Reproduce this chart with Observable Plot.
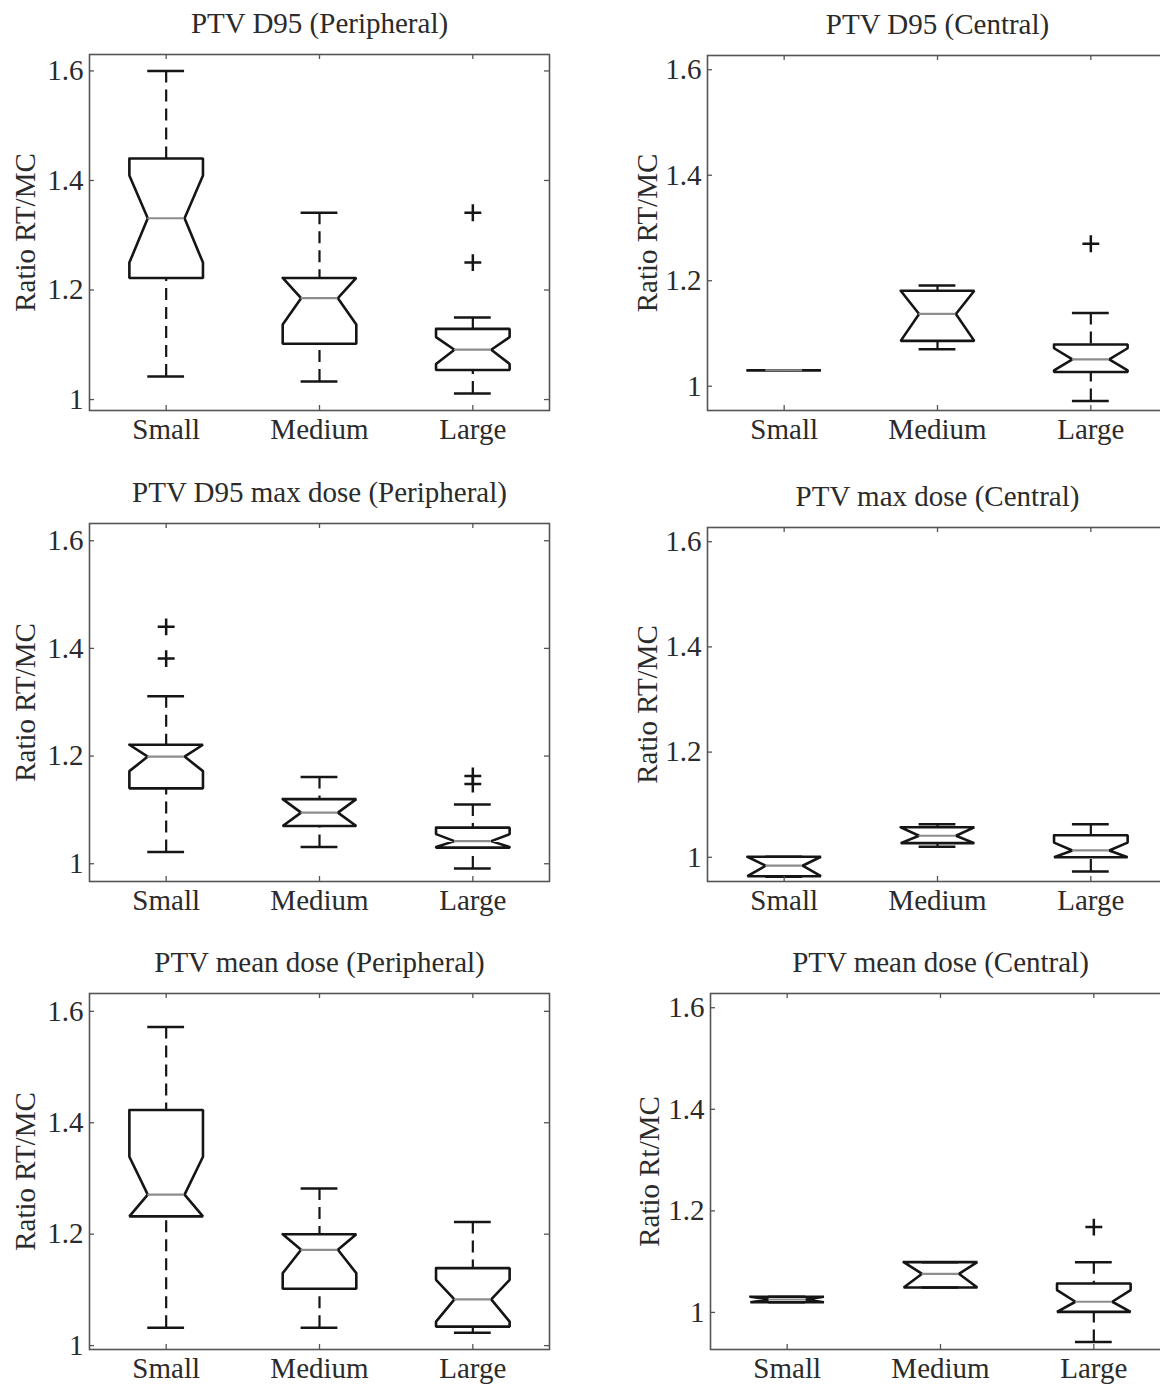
<!DOCTYPE html>
<html>
<head>
<meta charset="utf-8">
<script src="https://cdn.jsdelivr.net/npm/d3@7"></script>
<script src="https://cdn.jsdelivr.net/npm/@observablehq/plot@0.6"></script>
<style>
html, body { margin: 0; padding: 0; background: #fff; }
#root { position: relative; width: 1160px; height: 1384px; overflow: hidden; background: #fff; }
.panel { position: absolute; overflow: visible; }
.panel svg { max-width: none !important; display: block; }
</style>
</head>
<body>
<div id="root"></div>
<script>
// ---------------- data ----------------
const categories = ["Small", "Medium", "Large"];
const titles = [
  "PTV D95 (Peripheral)",
  "PTV D95 (Central)",
  "PTV D95 max dose (Peripheral)",
  "PTV max dose (Central)",
  "PTV mean dose (Peripheral)",
  "PTV mean dose (Central)"
];
const yLabels = ["Ratio RT/MC", "Ratio RT/MC", "Ratio RT/MC", "Ratio RT/MC", "Ratio RT/MC", "Ratio Rt/MC"];
const yTicks = [1, 1.2, 1.4, 1.6];

// one row per panel, one value per category (Small, Medium, Large)
const whiskerHigh = [
  [1.600, 1.341, 1.150],
  [1.030, 1.191, 1.139],
  [1.311, 1.161, 1.110],
  [1.001, 1.063, 1.063],
  [1.572, 1.282, 1.222],
  [1.031, 1.099, 1.099]
];
const q3 = [
  [1.440, 1.222, 1.129],
  [1.030, 1.181, 1.079],
  [1.221, 1.120, 1.067],
  [1.001, 1.057, 1.042],
  [1.423, 1.200, 1.139],
  [1.031, 1.099, 1.057]
];
const notchHigh = [
  [1.409, 1.222, 1.114],
  [1.030, 1.181, 1.072],
  [1.221, 1.120, 1.055],
  [1.001, 1.057, 1.028],
  [1.339, 1.200, 1.118],
  [1.031, 1.099, 1.044]
];
const median = [
  [1.331, 1.185, 1.091],
  [1.030, 1.137, 1.051],
  [1.199, 1.095, 1.042],
  [0.984, 1.041, 1.013],
  [1.271, 1.172, 1.083],
  [1.0255, 1.076, 1.021]
];
const notchLow = [
  [1.250, 1.137, 1.065],
  [1.030, 1.086, 1.030],
  [1.172, 1.070, 1.031],
  [0.964, 1.027, 1.000],
  [1.232, 1.130, 1.043],
  [1.020, 1.049, 1.001]
];
const q1 = [
  [1.222, 1.102, 1.054],
  [1.030, 1.086, 1.027],
  [1.140, 1.070, 1.030],
  [0.964, 1.027, 1.000],
  [1.232, 1.102, 1.034],
  [1.020, 1.049, 1.001]
];
const whiskerLow = [
  [1.042, 1.033, 1.011],
  [1.030, 1.070, 0.972],
  [1.022, 1.031, 0.991],
  [0.963, 1.020, 0.973],
  [1.032, 1.032, 1.023],
  [1.020, 1.049, 0.942]
];
// outliers ('+')
const outlierPanel    = [0, 0, 1, 2, 2, 2, 2, 5];
const outlierCategory = ["Large", "Large", "Large", "Small", "Small", "Large", "Large", "Large"];
const outlierValue    = [1.341, 1.250, 1.270, 1.440, 1.381, 1.163, 1.148, 1.168];

// ---------------- layout / style ----------------
const layout = [
  {left: 0,   top: 0,   width: 580, mL: 89,  mR: 31, mT: 54, mB: 50, y: [0.980, 1.630], lab: -55},
  {left: 580, top: 0,   width: 600, mL: 127, mR: 13, mT: 55, mB: 50, y: [0.954, 1.627], lab: -51},
  {left: 0,   top: 470, width: 580, mL: 89,  mR: 31, mT: 53, mB: 49, y: [0.967, 1.632], lab: -55},
  {left: 580, top: 470, width: 600, mL: 127, mR: 13, mT: 57, mB: 49, y: [0.954, 1.627], lab: -51},
  {left: 0,   top: 940, width: 580, mL: 89,  mR: 31, mT: 53, mB: 51, y: [0.993, 1.632], lab: -55},
  {left: 580, top: 940, width: 600, mL: 130, mR: 10, mT: 53, mB: 51, y: [0.927, 1.628], lab: -52}
];
const HEIGHT = 460;
const HW = 0.24;   // half box width (x units)
const NW = 0.12;   // half notch width
const CW = 0.12;   // half cap width
const FONT = "'Liberation Serif', 'Times New Roman', Times, serif";
const FS = 29;
const INK = "#151515";
const TEXT = "#2b2b2b";

const root = document.getElementById("root");

function panel(p) {
  const L = layout[p];
  const frameW = L.width - L.mL - L.mR;
  const frameH = HEIGHT - L.mT - L.mB;
  const boxes = categories.map((c, i) => ({
    i: i + 1, cat: c,
    wHi: whiskerHigh[p][i], q3: q3[p][i], nHi: notchHigh[p][i], med: median[p][i],
    nLo: notchLow[p][i], q1: q1[p][i], wLo: whiskerLow[p][i]
  }));
  const outline = boxes.flatMap(b => {
    const x = b.i;
    return [
      [x - HW, b.q3], [x + HW, b.q3], [x + HW, b.nHi], [x + NW, b.med], [x + HW, b.nLo],
      [x + HW, b.q1], [x - HW, b.q1], [x - HW, b.nLo], [x - NW, b.med], [x - HW, b.nHi], [x - HW, b.q3]
    ].map(([px, py]) => ({cat: b.cat, x: px, y: py}));
  });
  const outs = outlierValue
    .map((v, k) => ({v, p: outlierPanel[k], i: categories.indexOf(outlierCategory[k]) + 1}))
    .filter(d => d.p === p);

  const chart = Plot.plot({
    width: L.width,
    height: HEIGHT,
    marginLeft: L.mL, marginRight: L.mR, marginTop: L.mT, marginBottom: L.mB,
    x: {domain: [0.5, 3.5], axis: null},
    y: {domain: L.y, axis: null},
    style: {fontFamily: FONT, fontSize: FS + "px", color: TEXT, background: "transparent", overflow: "visible", maxWidth: "none"},
    marks: [
      // whiskers (dashed), starting at the caps
      Plot.ruleX(boxes, {x: "i", y1: "wHi", y2: "q3", stroke: INK, strokeWidth: 2.2, strokeDasharray: "12,7"}),
      Plot.ruleX(boxes, {x: "i", y1: "wLo", y2: "q1", stroke: INK, strokeWidth: 2.2, strokeDasharray: "12,7"}),
      // caps
      Plot.ruleY(boxes, {y: "wHi", x1: d => d.i - CW, x2: d => d.i + CW, stroke: INK, strokeWidth: 2.5}),
      Plot.ruleY(boxes, {y: "wLo", x1: d => d.i - CW, x2: d => d.i + CW, stroke: INK, strokeWidth: 2.5}),
      // notched boxes
      Plot.line(outline, {x: "x", y: "y", z: "cat", stroke: INK, strokeWidth: 2.6, strokeLinejoin: "miter"}),
      // medians
      Plot.ruleY(boxes, {y: "med", x1: d => d.i - NW, x2: d => d.i + NW, stroke: "#8c8c8c", strokeWidth: 2.2}),
      // outliers
      Plot.dot(outs, {x: "i", y: "v", symbol: "plus", r: 5.5, stroke: INK, strokeWidth: 2.5}),
      // frame and inward ticks
      Plot.frame({stroke: "#555", strokeWidth: 1.6}),
      Plot.ruleY(yTicks, {y: d => d, insetRight: frameW - 5, stroke: "#555", strokeWidth: 1.3}),
      Plot.ruleY(yTicks, {y: d => d, insetLeft: frameW - 5, stroke: "#555", strokeWidth: 1.3}),
      Plot.ruleX([1, 2, 3], {x: d => d, insetTop: frameH - 5, stroke: "#555", strokeWidth: 1.3}),
      Plot.ruleX([1, 2, 3], {x: d => d, insetBottom: frameH - 5, stroke: "#555", strokeWidth: 1.3}),
      // tick labels
      Plot.axisY({ticks: yTicks, anchor: "left", tickSize: 0, tickPadding: 6, label: null,
                  fontSize: FS, fill: TEXT, tickFormat: d3.format("~g")}),
      Plot.axisX({ticks: [1, 2, 3], anchor: "bottom", tickSize: 0, tickPadding: 8, label: null,
                  fontSize: FS, fill: TEXT, tickFormat: d => categories[d - 1]}),
      // title and y label
      Plot.text([titles[p]], {frameAnchor: "top", dy: -22, lineAnchor: "bottom", text: d => d,
                              fontSize: FS, fill: TEXT}),
      Plot.text([yLabels[p]], {frameAnchor: "left", dx: L.lab, rotate: -90, lineAnchor: "bottom",
                               textAnchor: "middle", text: d => d, fontSize: FS, fill: TEXT})
    ]
  });
  chart.style.maxWidth = "none";
  const div = document.createElement("div");
  div.className = "panel";
  div.style.left = L.left + "px";
  div.style.top = L.top + "px";
  div.style.width = L.width + "px";
  div.style.height = HEIGHT + "px";
  div.appendChild(chart);
  root.appendChild(div);
}

for (let p = 0; p < 6; p++) panel(p);
</script>
</body>
</html>
